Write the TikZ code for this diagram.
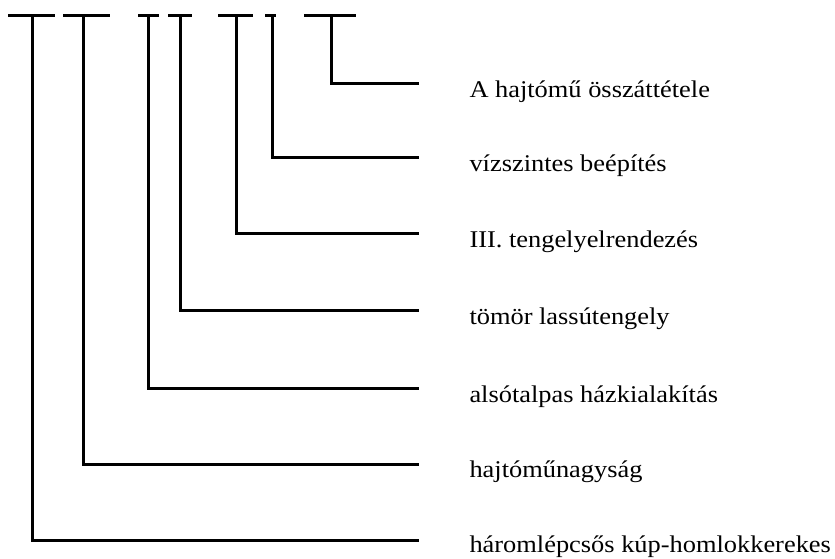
\documentclass[tikz,border=0pt]{standalone}
\usepackage{fontspec}
\setmainfont{Liberation Serif}[FakeStretch=1.1]
\begin{document}
\begin{tikzpicture}[x=1pt,y=-1pt,line width=3pt,line join=miter,
  lbl/.style={anchor=base west,inner sep=0pt,font=\fontsize{24}{28}\selectfont}]
  \useasboundingbox (0,0) rectangle (835,558);
  % labels
  \node [lbl] (n1) at (468,97)  {A hajtómű összáttétele};
  \node [lbl] (n2) at (468,171) {vízszintes beépítés};
  \node [lbl] (n3) at (468,247) {III. tengelyelrendezés};
  \node [lbl] (n4) at (468,324) {tömör lassútengely};
  \node [lbl] (n5) at (468,402) {alsótalpas házkialakítás};
  \node [lbl] (n6) at (468,477) {hajtóműnagyság};
  \node [lbl] (n7) at (468,552) {háromlépcsős kúp-homlokkerekes};
  % line ends
  \coordinate (e1) at (419,83);
  \coordinate (e2) at (419,157);
  \coordinate (e3) at (419,233);
  \coordinate (e4) at (419,310);
  \coordinate (e5) at (419,388);
  \coordinate (e6) at (419,464);
  \coordinate (e7) at (419,540);
  % tops of the stems
  \coordinate (t1) at (32,15);
  \coordinate (t2) at (83,15);
  \coordinate (t3) at (148,15);
  \coordinate (t4) at (180,15);
  \coordinate (t5) at (236,15);
  \coordinate (t6) at (272,15);
  \coordinate (t7) at (331,15);
  % bars
  \draw (8,15) -- (55,15);
  \draw (63,15) -- (110,15);
  \draw (138,15) -- (159,15);
  \draw (168,15) -- (192,15);
  \draw (218,15) -- (253,15);
  \draw (265,15) -- (276,15);
  \draw (304,15) -- (356,15);
  % stems
  \draw (t1) |- (e7);
  \draw (t2) |- (e6);
  \draw (t3) |- (e5);
  \draw (t4) |- (e4);
  \draw (t5) |- (e3);
  \draw (t6) |- (e2);
  \draw (t7) |- (e1);
\end{tikzpicture}
\end{document}
